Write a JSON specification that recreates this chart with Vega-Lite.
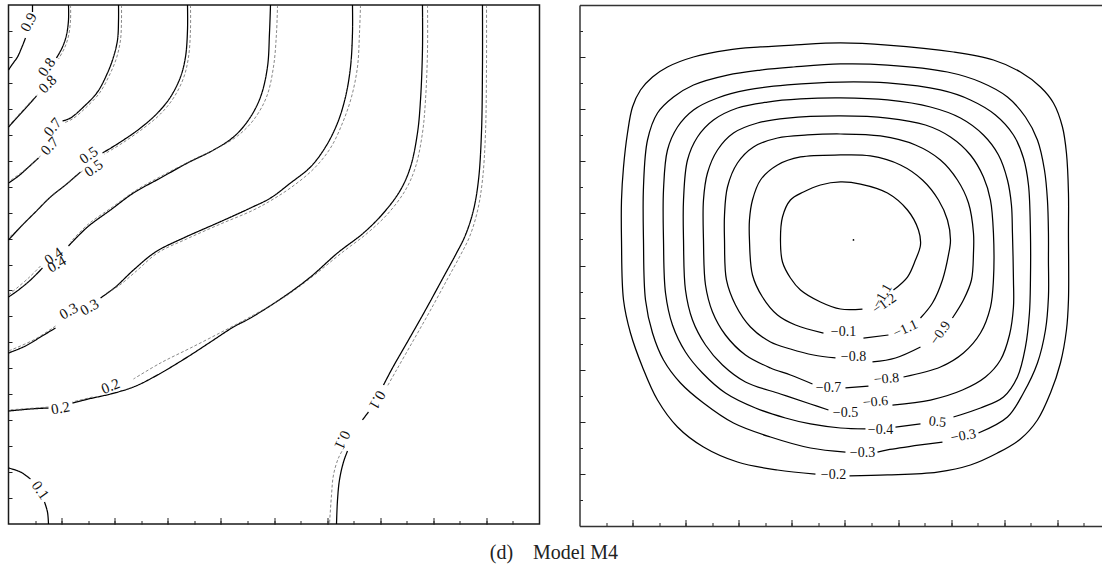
{
  "$schema": "https://vega.github.io/schema/vega-lite/v6.json",
  "background": "white",
  "padding": {"left": 4.5, "top": 1, "right": 0, "bottom": 0},
  "config": {
    "axis": {"grid": false, "labels": false, "title": null, "minExtent": 0, "tickColor": "#222", "tickWidth": 1, "domainColor": "#333", "domainWidth": 1.5},
    "text": {"font": "Liberation Serif", "fontSize": 14, "color": "#111"}
  },
  "title": {"text": "(d)\u00a0\u00a0\u00a0\u00a0Model M4", "orient": "bottom", "anchor": "middle", "font": "Liberation Serif", "fontSize": 20, "fontWeight": "normal", "color": "#222", "baseline": "alphabetic", "offset": 32},
  "spacing": 38,
  "datasets": {
    "leftLines": [
      {"k":"L9a","s":"solid","x":0.0452,"y":1},{"k":"L9a","s":"solid","x":0.0452,"y":0.9865},
      {"k":"L9b","s":"solid","x":0.0320,"y":0.9364},{"k":"L9b","s":"solid","x":0.0245,"y":0.9171},{"k":"L9b","s":"solid","x":0.0169,"y":0.8998},{"k":"L9b","s":"solid","x":0.0075,"y":0.8863},{"k":"L9b","s":"solid","x":0,"y":0.8748},
      {"k":"L8a","s":"solid","x":0.1130,"y":1},{"k":"L8a","s":"solid","x":0.1130,"y":0.9711},{"k":"L8a","s":"solid","x":0.1092,"y":0.9422},{"k":"L8a","s":"solid","x":0.1017,"y":0.9191},{"k":"L8a","s":"solid","x":0.0904,"y":0.8979},
      {"k":"L8b","s":"solid","x":0.0527,"y":0.8247},{"k":"L8b","s":"solid","x":0.0377,"y":0.8073},{"k":"L8b","s":"solid","x":0.0188,"y":0.7861},{"k":"L8b","s":"solid","x":0,"y":0.7649},
      {"k":"D8a","s":"dashed","x":0.1168,"y":1},{"k":"D8a","s":"dashed","x":0.1168,"y":0.9711},{"k":"D8a","s":"dashed","x":0.1130,"y":0.9403},{"k":"D8a","s":"dashed","x":0.1055,"y":0.9171},{"k":"D8a","s":"dashed","x":0.0942,"y":0.8960},
      {"k":"D8b","s":"dashed","x":0.0546,"y":0.8266},{"k":"D8b","s":"dashed","x":0.0377,"y":0.8093},{"k":"D8b","s":"dashed","x":0.0188,"y":0.7881},{"k":"D8b","s":"dashed","x":0,"y":0.7669},
      {"k":"L7a","s":"solid","x":0.2072,"y":1},{"k":"L7a","s":"solid","x":0.2072,"y":0.9711},{"k":"L7a","s":"solid","x":0.2053,"y":0.9326},{"k":"L7a","s":"solid","x":0.1977,"y":0.8998},{"k":"L7a","s":"solid","x":0.1864,"y":0.8690},{"k":"L7a","s":"solid","x":0.1676,"y":0.8324},{"k":"L7a","s":"solid","x":0.1412,"y":0.8035},{"k":"L7a","s":"solid","x":0.1168,"y":0.7823},{"k":"L7a","s":"solid","x":0.1017,"y":0.7765},
      {"k":"L7b","s":"solid","x":0.0565,"y":0.7052},{"k":"L7b","s":"solid","x":0.0358,"y":0.6859},{"k":"L7b","s":"solid","x":0.0188,"y":0.6705},{"k":"L7b","s":"solid","x":0,"y":0.6570},
      {"k":"D7a","s":"dashed","x":0.2128,"y":1},{"k":"D7a","s":"dashed","x":0.2128,"y":0.9711},{"k":"D7a","s":"dashed","x":0.2109,"y":0.9326},{"k":"D7a","s":"dashed","x":0.2034,"y":0.8979},{"k":"D7a","s":"dashed","x":0.1902,"y":0.8651},{"k":"D7a","s":"dashed","x":0.1714,"y":0.8304},{"k":"D7a","s":"dashed","x":0.1450,"y":0.8015},{"k":"D7a","s":"dashed","x":0.1205,"y":0.7804},{"k":"D7a","s":"dashed","x":0.1036,"y":0.7726},
      {"k":"D7b","s":"dashed","x":0.0603,"y":0.7091},{"k":"D7b","s":"dashed","x":0.0377,"y":0.6879},{"k":"D7b","s":"dashed","x":0,"y":0.6590},
      {"k":"L5a","s":"solid","x":0.3371,"y":1},{"k":"L5a","s":"solid","x":0.3371,"y":0.9518},{"k":"L5a","s":"solid","x":0.3333,"y":0.8998},{"k":"L5a","s":"solid","x":0.3239,"y":0.8613},{"k":"L5a","s":"solid","x":0.3051,"y":0.8227},{"k":"L5a","s":"solid","x":0.2806,"y":0.7919},{"k":"L5a","s":"solid","x":0.2486,"y":0.7630},{"k":"L5a","s":"solid","x":0.2109,"y":0.7360},{"k":"L5a","s":"solid","x":0.1770,"y":0.7148},
      {"k":"L5b","s":"solid","x":0.1356,"y":0.6782},{"k":"L5b","s":"solid","x":0.1073,"y":0.6532},{"k":"L5b","s":"solid","x":0.0791,"y":0.6301},{"k":"L5b","s":"solid","x":0.0508,"y":0.6012},{"k":"L5b","s":"solid","x":0.0226,"y":0.5723},{"k":"L5b","s":"solid","x":0,"y":0.5472},
      {"k":"D5a","s":"dashed","x":0.3427,"y":1},{"k":"D5a","s":"dashed","x":0.3427,"y":0.9518},{"k":"D5a","s":"dashed","x":0.3390,"y":0.8998},{"k":"D5a","s":"dashed","x":0.3296,"y":0.8593},{"k":"D5a","s":"dashed","x":0.3107,"y":0.8208},{"k":"D5a","s":"dashed","x":0.2862,"y":0.7900},{"k":"D5a","s":"dashed","x":0.2523,"y":0.7611},{"k":"D5a","s":"dashed","x":0.2147,"y":0.7341},{"k":"D5a","s":"dashed","x":0.1808,"y":0.7129},
      {"k":"D5b","s":"dashed","x":0.1394,"y":0.6802},{"k":"D5b","s":"dashed","x":0.1092,"y":0.6551},{"k":"D5b","s":"dashed","x":0.0810,"y":0.6320},{"k":"D5b","s":"dashed","x":0.0527,"y":0.6031},{"k":"D5b","s":"dashed","x":0.0245,"y":0.5742},{"k":"D5b","s":"dashed","x":0,"y":0.5511},
      {"k":"L4a","s":"solid","x":0.4934,"y":1},{"k":"L4a","s":"solid","x":0.4915,"y":0.9461},{"k":"L4a","s":"solid","x":0.4877,"y":0.8806},{"k":"L4a","s":"solid","x":0.4746,"y":0.8227},{"k":"L4a","s":"solid","x":0.4520,"y":0.7784},{"k":"L4a","s":"solid","x":0.4237,"y":0.7457},{"k":"L4a","s":"solid","x":0.3861,"y":0.7206},{"k":"L4a","s":"solid","x":0.3371,"y":0.6956},{"k":"L4a","s":"solid","x":0.2862,"y":0.6667},{"k":"L4a","s":"solid","x":0.2354,"y":0.6378},{"k":"L4a","s":"solid","x":0.1921,"y":0.6050},{"k":"L4a","s":"solid","x":0.1488,"y":0.5723},{"k":"L4a","s":"solid","x":0.1130,"y":0.5357},
      {"k":"L4b","s":"solid","x":0.0640,"y":0.4933},{"k":"L4b","s":"solid","x":0.0414,"y":0.4701},{"k":"L4b","s":"solid","x":0.0188,"y":0.4509},{"k":"L4b","s":"solid","x":0,"y":0.4374},
      {"k":"D4a","s":"dashed","x":0.5066,"y":1},{"k":"D4a","s":"dashed","x":0.5047,"y":0.9461},{"k":"D4a","s":"dashed","x":0.4990,"y":0.8806},{"k":"D4a","s":"dashed","x":0.4859,"y":0.8227},{"k":"D4a","s":"dashed","x":0.4614,"y":0.7784},{"k":"D4a","s":"dashed","x":0.4312,"y":0.7476},{"k":"D4a","s":"dashed","x":0.3936,"y":0.7245},{"k":"D4a","s":"dashed","x":0.3427,"y":0.6994},{"k":"D4a","s":"dashed","x":0.2919,"y":0.6725},{"k":"D4a","s":"dashed","x":0.2410,"y":0.6436},{"k":"D4a","s":"dashed","x":0.1959,"y":0.6108},{"k":"D4a","s":"dashed","x":0.1507,"y":0.5780},{"k":"D4a","s":"dashed","x":0.1168,"y":0.5434},
      {"k":"D4b","s":"dashed","x":0.0603,"y":0.4971},{"k":"D4b","s":"dashed","x":0.0377,"y":0.4740},{"k":"D4b","s":"dashed","x":0,"y":0.4412},
      {"k":"L3a","s":"solid","x":0.6478,"y":1},{"k":"L3a","s":"solid","x":0.6478,"y":0.9461},{"k":"L3a","s":"solid","x":0.6441,"y":0.8806},{"k":"L3a","s":"solid","x":0.6346,"y":0.8227},{"k":"L3a","s":"solid","x":0.6196,"y":0.7726},{"k":"L3a","s":"solid","x":0.5970,"y":0.7264},{"k":"L3a","s":"solid","x":0.5687,"y":0.6879},{"k":"L3a","s":"solid","x":0.5311,"y":0.6570},{"k":"L3a","s":"solid","x":0.4934,"y":0.6281},{"k":"L3a","s":"solid","x":0.4557,"y":0.6089},{"k":"L3a","s":"solid","x":0.3936,"y":0.5800},{"k":"L3a","s":"solid","x":0.3296,"y":0.5511},{"k":"L3a","s":"solid","x":0.2768,"y":0.5241},{"k":"L3a","s":"solid","x":0.2354,"y":0.4894},{"k":"L3a","s":"solid","x":0.2015,"y":0.4567},{"k":"L3a","s":"solid","x":0.1733,"y":0.4355},
      {"k":"L3b","s":"solid","x":0.0885,"y":0.3777},{"k":"L3b","s":"solid","x":0.0603,"y":0.3603},{"k":"L3b","s":"solid","x":0.0320,"y":0.3430},{"k":"L3b","s":"solid","x":0,"y":0.3295},
      {"k":"D3a","s":"dashed","x":0.6629,"y":1},{"k":"D3a","s":"dashed","x":0.6610,"y":0.9461},{"k":"D3a","s":"dashed","x":0.6572,"y":0.8806},{"k":"D3a","s":"dashed","x":0.6459,"y":0.8227},{"k":"D3a","s":"dashed","x":0.6290,"y":0.7726},{"k":"D3a","s":"dashed","x":0.6064,"y":0.7245},{"k":"D3a","s":"dashed","x":0.5763,"y":0.6859},{"k":"D3a","s":"dashed","x":0.5386,"y":0.6532},{"k":"D3a","s":"dashed","x":0.4990,"y":0.6262},{"k":"D3a","s":"dashed","x":0.4614,"y":0.6050},{"k":"D3a","s":"dashed","x":0.3992,"y":0.5780},{"k":"D3a","s":"dashed","x":0.3352,"y":0.5491},{"k":"D3a","s":"dashed","x":0.2806,"y":0.5222},{"k":"D3a","s":"dashed","x":0.2410,"y":0.4875},{"k":"D3a","s":"dashed","x":0.2072,"y":0.4586},{"k":"D3a","s":"dashed","x":0.1846,"y":0.4451},
      {"k":"D3b","s":"dashed","x":0.0885,"y":0.3815},{"k":"D3b","s":"dashed","x":0.0508,"y":0.3565},{"k":"D3b","s":"dashed","x":0,"y":0.3333},
      {"k":"L2a","s":"solid","x":0.7796,"y":1},{"k":"L2a","s":"solid","x":0.7796,"y":0.9133},{"k":"L2a","s":"solid","x":0.7759,"y":0.8170},{"k":"L2a","s":"solid","x":0.7702,"y":0.7534},{"k":"L2a","s":"solid","x":0.7570,"y":0.6879},{"k":"L2a","s":"solid","x":0.7382,"y":0.6435},{"k":"L2a","s":"solid","x":0.7062,"y":0.5992},{"k":"L2a","s":"solid","x":0.6685,"y":0.5607},{"k":"L2a","s":"solid","x":0.6196,"y":0.5222},{"k":"L2a","s":"solid","x":0.5687,"y":0.4759},{"k":"L2a","s":"solid","x":0.5179,"y":0.4374},{"k":"L2a","s":"solid","x":0.4557,"y":0.3969},{"k":"L2a","s":"solid","x":0.4237,"y":0.3796},{"k":"L2a","s":"solid","x":0.3804,"y":0.3507},{"k":"L2a","s":"solid","x":0.3371,"y":0.3218},{"k":"L2a","s":"solid","x":0.2806,"y":0.2871},{"k":"L2a","s":"solid","x":0.2354,"y":0.2640},{"k":"L2a","s":"solid","x":0.1921,"y":0.2505},{"k":"L2a","s":"solid","x":0.1507,"y":0.2409},{"k":"L2a","s":"solid","x":0.1205,"y":0.2331},
      {"k":"L2b","s":"solid","x":0.0753,"y":0.2235},{"k":"L2b","s":"solid","x":0.0414,"y":0.2216},{"k":"L2b","s":"solid","x":0,"y":0.2177},
      {"k":"D2a","s":"dashed","x":0.7891,"y":1},{"k":"D2a","s":"dashed","x":0.7891,"y":0.9133},{"k":"D2a","s":"dashed","x":0.7853,"y":0.8170},{"k":"D2a","s":"dashed","x":0.7796,"y":0.7534},{"k":"D2a","s":"dashed","x":0.7665,"y":0.6879},{"k":"D2a","s":"dashed","x":0.7476,"y":0.6435},{"k":"D2a","s":"dashed","x":0.7156,"y":0.5992},{"k":"D2a","s":"dashed","x":0.6761,"y":0.5607},{"k":"D2a","s":"dashed","x":0.6271,"y":0.5222},{"k":"D2a","s":"dashed","x":0.5763,"y":0.4798},{"k":"D2a","s":"dashed","x":0.5254,"y":0.4412},{"k":"D2a","s":"dashed","x":0.4651,"y":0.4046},{"k":"D2a","s":"dashed","x":0.4087,"y":0.3738},{"k":"D2a","s":"dashed","x":0.3427,"y":0.3391},{"k":"D2a","s":"dashed","x":0.2862,"y":0.3102},{"k":"D2a","s":"dashed","x":0.2354,"y":0.2794},
      {"k":"D2b","s":"dashed","x":0.1582,"y":0.2447},{"k":"D2b","s":"dashed","x":0.1205,"y":0.2351},
      {"k":"D2c","s":"dashed","x":0.0753,"y":0.2254},{"k":"D2c","s":"dashed","x":0,"y":0.2197},
      {"k":"L1a","s":"solid","x":0.8926,"y":1},{"k":"L1a","s":"solid","x":0.8926,"y":0.8806},{"k":"L1a","s":"solid","x":0.8907,"y":0.7534},{"k":"L1a","s":"solid","x":0.8851,"y":0.6628},{"k":"L1a","s":"solid","x":0.8757,"y":0.6050},{"k":"L1a","s":"solid","x":0.8606,"y":0.5568},{"k":"L1a","s":"solid","x":0.8418,"y":0.5183},{"k":"L1a","s":"solid","x":0.8192,"y":0.4759},{"k":"L1a","s":"solid","x":0.7853,"y":0.4123},{"k":"L1a","s":"solid","x":0.7533,"y":0.3545},{"k":"L1a","s":"solid","x":0.7231,"y":0.3006},{"k":"L1a","s":"solid","x":0.7062,"y":0.2678},
      {"k":"L1b","s":"solid","x":0.6779,"y":0.2158},{"k":"L1b","s":"solid","x":0.6666,"y":0.2004},
      {"k":"L1c","s":"solid","x":0.6384,"y":0.1407},{"k":"L1c","s":"solid","x":0.6309,"y":0.1195},{"k":"L1c","s":"solid","x":0.6233,"y":0.0848},{"k":"L1c","s":"solid","x":0.6196,"y":0.0462},{"k":"L1c","s":"solid","x":0.6177,"y":0},
      {"k":"D1a","s":"dashed","x":0.9002,"y":1},{"k":"D1a","s":"dashed","x":0.9002,"y":0.8806},{"k":"D1a","s":"dashed","x":0.8983,"y":0.7534},{"k":"D1a","s":"dashed","x":0.8926,"y":0.6628},{"k":"D1a","s":"dashed","x":0.8832,"y":0.6031},{"k":"D1a","s":"dashed","x":0.8681,"y":0.5530},{"k":"D1a","s":"dashed","x":0.8493,"y":0.5145},{"k":"D1a","s":"dashed","x":0.8267,"y":0.4721},{"k":"D1a","s":"dashed","x":0.7928,"y":0.4085},{"k":"D1a","s":"dashed","x":0.7608,"y":0.3507},{"k":"D1a","s":"dashed","x":0.7307,"y":0.2967},{"k":"D1a","s":"dashed","x":0.7137,"y":0.2659},
      {"k":"D1b","s":"dashed","x":0.6327,"y":0.1484},{"k":"D1b","s":"dashed","x":0.6214,"y":0.1272},{"k":"D1b","s":"dashed","x":0.6120,"y":0.0944},{"k":"D1b","s":"dashed","x":0.6083,"y":0.0559},{"k":"D1b","s":"dashed","x":0.6045,"y":0},
      {"k":"L0a","s":"solid","x":0,"y":0.1079},{"k":"L0a","s":"solid","x":0.0226,"y":0.1002},{"k":"L0a","s":"solid","x":0.0414,"y":0.0867},
      {"k":"L0b","s":"solid","x":0.0678,"y":0.0424},{"k":"L0b","s":"solid","x":0.0734,"y":0.0231},{"k":"L0b","s":"solid","x":0.0753,"y":0}
    ],
    "leftLabels": [
      {"t":"0.9","x":0.0377,"y":0.9672,"a":-62},
      {"t":"0.8","x":0.0716,"y":0.8805,"a":-55},
      {"t":"0.8","x":0.0734,"y":0.8478,"a":-45},
      {"t":"0.7","x":0.0829,"y":0.7649,"a":-50},
      {"t":"0.7","x":0.0772,"y":0.7283,"a":-48},
      {"t":"0.5","x":0.1507,"y":0.7110,"a":-35},
      {"t":"0.5","x":0.1601,"y":0.6859,"a":-35},
      {"t":"0.4","x":0.0847,"y":0.5164,"a":-35},
      {"t":"0.4","x":0.0904,"y":0.5010,"a":-30},
      {"t":"0.3","x":0.1525,"y":0.4181,"a":-30},
      {"t":"0.3","x":0.1130,"y":0.4104,"a":-30},
      {"t":"0.2","x":0.1921,"y":0.2659,"a":-22},
      {"t":"0.2","x":0.0979,"y":0.2235,"a":-10},
      {"t":"0.1","x":0.6949,"y":0.2389,"a":120},
      {"t":"0.1","x":0.6290,"y":0.1618,"a":115},
      {"t":"0.1","x":0.0603,"y":0.0655,"a":55}
    ],
    "rightLines": [
      {"k":"C1","x":0.5085,"y":0.0960},{"k":"C1","x":0.5800,"y":0.0979},{"k":"C1","x":0.6742,"y":0.1036},{"k":"C1","x":0.7363,"y":0.1171},{"k":"C1","x":0.7872,"y":0.1401},{"k":"C1","x":0.8305,"y":0.1670},{"k":"C1","x":0.8625,"y":0.2035},{"k":"C1","x":0.8870,"y":0.2553},{"k":"C1","x":0.9058,"y":0.3129},{"k":"C1","x":0.9171,"y":0.3762},{"k":"C1","x":0.9209,"y":0.4338},{"k":"C1","x":0.9209,"y":0.5624},{"k":"C1","x":0.9209,"y":0.6392},{"k":"C1","x":0.9171,"y":0.7159},{"k":"C1","x":0.9096,"y":0.7658},{"k":"C1","x":0.8926,"y":0.8119},{"k":"C1","x":0.8682,"y":0.8426},{"k":"C1","x":0.8305,"y":0.8714},{"k":"C1","x":0.7796,"y":0.8944},{"k":"C1","x":0.7043,"y":0.9098},{"k":"C1","x":0.5800,"y":0.9232},{"k":"C1","x":0.4915,"y":0.9271},{"k":"C1","x":0.4030,"y":0.9232},{"k":"C1","x":0.3409,"y":0.9194},{"k":"C1","x":0.2787,"y":0.9136},{"k":"C1","x":0.2147,"y":0.9002},{"k":"C1","x":0.1657,"y":0.8810},{"k":"C1","x":0.1375,"y":0.8618},{"k":"C1","x":0.1149,"y":0.8369},{"k":"C1","x":0.0998,"y":0.8042},{"k":"C1","x":0.0904,"y":0.7543},{"k":"C1","x":0.0829,"y":0.6891},{"k":"C1","x":0.0791,"y":0.6257},{"k":"C1","x":0.0791,"y":0.5490},{"k":"C1","x":0.0829,"y":0.4338},{"k":"C1","x":0.0960,"y":0.3704},{"k":"C1","x":0.1186,"y":0.3052},{"k":"C1","x":0.1469,"y":0.2418},{"k":"C1","x":0.1846,"y":0.1900},{"k":"C1","x":0.2335,"y":0.1516},{"k":"C1","x":0.2975,"y":0.1228},{"k":"C1","x":0.3729,"y":0.1075},{"k":"C1","x":0.4444,"y":0.0998},
      {"k":"C2a","x":0.5612,"y":0.1420},{"k":"C2a","x":0.5800,"y":0.1459},{"k":"C2a","x":0.6422,"y":0.1555},{"k":"C2a","x":0.6836,"y":0.1612},
      {"k":"C2b","x":0.7514,"y":0.1785},{"k":"C2b","x":0.8060,"y":0.2092},{"k":"C2b","x":0.8361,"y":0.2553},{"k":"C2b","x":0.8625,"y":0.3129},{"k":"C2b","x":0.8776,"y":0.3762},{"k":"C2b","x":0.8832,"y":0.4395},{"k":"C2b","x":0.8832,"y":0.5106},{"k":"C2b","x":0.8832,"y":0.5624},{"k":"C2b","x":0.8813,"y":0.6257},{"k":"C2b","x":0.8757,"y":0.6833},{"k":"C2b","x":0.8625,"y":0.7409},{"k":"C2b","x":0.8399,"y":0.7850},{"k":"C2b","x":0.8060,"y":0.8234},{"k":"C2b","x":0.7552,"y":0.8522},{"k":"C2b","x":0.6930,"y":0.8714},{"k":"C2b","x":0.5800,"y":0.8848},{"k":"C2b","x":0.4915,"y":0.8868},{"k":"C2b","x":0.4030,"y":0.8810},{"k":"C2b","x":0.3409,"y":0.8752},{"k":"C2b","x":0.2787,"y":0.8656},{"k":"C2b","x":0.2147,"y":0.8465},{"k":"C2b","x":0.1770,"y":0.8234},{"k":"C2b","x":0.1469,"y":0.7927},{"k":"C2b","x":0.1281,"y":0.7409},{"k":"C2b","x":0.1205,"y":0.6507},{"k":"C2b","x":0.1205,"y":0.5490},{"k":"C2b","x":0.1243,"y":0.4338},{"k":"C2b","x":0.1375,"y":0.3704},{"k":"C2b","x":0.1582,"y":0.3186},{"k":"C2b","x":0.1902,"y":0.2745},{"k":"C2b","x":0.2335,"y":0.2361},{"k":"C2b","x":0.2900,"y":0.1977},{"k":"C2b","x":0.3597,"y":0.1708},{"k":"C2b","x":0.4350,"y":0.1497},{"k":"C2b","x":0.5009,"y":0.1420},
      {"k":"C3a","x":0.5951,"y":0.1900},{"k":"C3a","x":0.6422,"y":0.1958},
      {"k":"C3b","x":0.7043,"y":0.2092},{"k":"C3b","x":0.7552,"y":0.2265},{"k":"C3b","x":0.7985,"y":0.2476},{"k":"C3b","x":0.8248,"y":0.2860},{"k":"C3b","x":0.8399,"y":0.3436},{"k":"C3b","x":0.8474,"y":0.4088},{"k":"C3b","x":0.8493,"y":0.4722},{"k":"C3b","x":0.8493,"y":0.5624},{"k":"C3b","x":0.8456,"y":0.6545},{"k":"C3b","x":0.8361,"y":0.7063},{"k":"C3b","x":0.8173,"y":0.7505},{"k":"C3b","x":0.7834,"y":0.7889},{"k":"C3b","x":0.7363,"y":0.8177},{"k":"C3b","x":0.6798,"y":0.8369},{"k":"C3b","x":0.5800,"y":0.8503},{"k":"C3b","x":0.4915,"y":0.8522},{"k":"C3b","x":0.3917,"y":0.8465},{"k":"C3b","x":0.3164,"y":0.8369},{"k":"C3b","x":0.2599,"y":0.8215},{"k":"C3b","x":0.2147,"y":0.7985},{"k":"C3b","x":0.1846,"y":0.7658},{"k":"C3b","x":0.1657,"y":0.7217},{"k":"C3b","x":0.1582,"y":0.6449},{"k":"C3b","x":0.1582,"y":0.5490},{"k":"C3b","x":0.1620,"y":0.4472},{"k":"C3b","x":0.1751,"y":0.3858},{"k":"C3b","x":0.1996,"y":0.3340},{"k":"C3b","x":0.2316,"y":0.2937},{"k":"C3b","x":0.2749,"y":0.2553},{"k":"C3b","x":0.3314,"y":0.2265},{"k":"C3b","x":0.3879,"y":0.2073},{"k":"C3b","x":0.4350,"y":0.1958},{"k":"C3b","x":0.4915,"y":0.1881},{"k":"C3b","x":0.5386,"y":0.1862},
      {"k":"C4","x":0.5894,"y":0.2322},{"k":"C4","x":0.6610,"y":0.2418},{"k":"C4","x":0.7213,"y":0.2610},{"k":"C4","x":0.7646,"y":0.2860},{"k":"C4","x":0.7928,"y":0.3186},{"k":"C4","x":0.8098,"y":0.3666},{"k":"C4","x":0.8173,"y":0.4203},{"k":"C4","x":0.8173,"y":0.4722},{"k":"C4","x":0.8154,"y":0.5624},{"k":"C4","x":0.8135,"y":0.6161},{"k":"C4","x":0.8060,"y":0.6641},{"k":"C4","x":0.7891,"y":0.7121},{"k":"C4","x":0.7608,"y":0.7505},{"k":"C4","x":0.7175,"y":0.7831},{"k":"C4","x":0.6610,"y":0.8042},{"k":"C4","x":0.5800,"y":0.8177},{"k":"C4","x":0.4915,"y":0.8215},{"k":"C4","x":0.4162,"y":0.8196},{"k":"C4","x":0.3540,"y":0.8138},{"k":"C4","x":0.2975,"y":0.8023},{"k":"C4","x":0.2523,"y":0.7793},{"k":"C4","x":0.2222,"y":0.7467},{"k":"C4","x":0.2034,"y":0.7025},{"k":"C4","x":0.1959,"y":0.6257},{"k":"C4","x":0.1959,"y":0.5490},{"k":"C4","x":0.1996,"y":0.4530},{"k":"C4","x":0.2128,"y":0.3954},{"k":"C4","x":0.2373,"y":0.3474},{"k":"C4","x":0.2693,"y":0.3090},{"k":"C4","x":0.3126,"y":0.2764},{"k":"C4","x":0.3785,"y":0.2534},{"k":"C4","x":0.4350,"y":0.2342},{"k":"C4","x":0.4689,"y":0.2227},
      {"k":"C5a","x":0.6102,"y":0.2860},{"k":"C5a","x":0.6798,"y":0.3052},{"k":"C5a","x":0.7231,"y":0.3321},{"k":"C5a","x":0.7552,"y":0.3704},{"k":"C5a","x":0.7740,"y":0.4203},{"k":"C5a","x":0.7796,"y":0.4722},{"k":"C5a","x":0.7796,"y":0.5624},{"k":"C5a","x":0.7740,"y":0.6257},{"k":"C5a","x":0.7608,"y":0.6699},{"k":"C5a","x":0.7363,"y":0.7121},{"k":"C5a","x":0.6987,"y":0.7467},{"k":"C5a","x":0.6516,"y":0.7697},{"k":"C5a","x":0.5800,"y":0.7831},{"k":"C5a","x":0.4915,"y":0.7870},{"k":"C5a","x":0.3917,"y":0.7831},{"k":"C5a","x":0.3352,"y":0.7735},{"k":"C5a","x":0.2900,"y":0.7543},{"k":"C5a","x":0.2599,"y":0.7217},{"k":"C5a","x":0.2410,"y":0.6775},{"k":"C5a","x":0.2335,"y":0.6257},{"k":"C5a","x":0.2335,"y":0.5490},{"k":"C5a","x":0.2373,"y":0.4626},{"k":"C5a","x":0.2505,"y":0.4108},{"k":"C5a","x":0.2749,"y":0.3666},{"k":"C5a","x":0.3126,"y":0.3282},{"k":"C5a","x":0.3597,"y":0.3033},{"k":"C5a","x":0.3973,"y":0.2898},{"k":"C5a","x":0.4388,"y":0.2726},
      {"k":"C5b","x":0.5009,"y":0.2649},{"k":"C5b","x":0.5442,"y":0.2687},
      {"k":"C6a","x":0.7024,"y":0.3992},{"k":"C6a","x":0.7231,"y":0.4338},{"k":"C6a","x":0.7382,"y":0.4722},{"k":"C6a","x":0.7420,"y":0.5240},{"k":"C6a","x":0.7420,"y":0.5624},{"k":"C6a","x":0.7326,"y":0.6200},{"k":"C6a","x":0.7118,"y":0.6641},{"k":"C6a","x":0.6798,"y":0.7025},{"k":"C6a","x":0.6327,"y":0.7313},{"k":"C6a","x":0.5668,"y":0.7486},{"k":"C6a","x":0.4915,"y":0.7524},{"k":"C6a","x":0.4294,"y":0.7505},{"k":"C6a","x":0.3729,"y":0.7447},{"k":"C6a","x":0.3277,"y":0.7275},{"k":"C6a","x":0.2975,"y":0.6967},{"k":"C6a","x":0.2787,"y":0.6507},{"k":"C6a","x":0.2731,"y":0.5969},{"k":"C6a","x":0.2731,"y":0.5490},{"k":"C6a","x":0.2768,"y":0.4722},{"k":"C6a","x":0.2938,"y":0.4242},{"k":"C6a","x":0.3220,"y":0.3820},{"k":"C6a","x":0.3597,"y":0.3532},{"k":"C6a","x":0.3973,"y":0.3397},{"k":"C6a","x":0.4407,"y":0.3282},{"k":"C6a","x":0.4821,"y":0.3225},
      {"k":"C6b","x":0.5518,"y":0.3148},{"k":"C6b","x":0.5951,"y":0.3225},{"k":"C6b","x":0.6422,"y":0.3436},
      {"k":"C7a","x":0.6422,"y":0.3992},{"k":"C7a","x":0.6648,"y":0.4280},{"k":"C7a","x":0.6836,"y":0.4722},{"k":"C7a","x":0.6949,"y":0.5202},{"k":"C7a","x":0.6987,"y":0.5490},{"k":"C7a","x":0.6930,"y":0.5873},{"k":"C7a","x":0.6761,"y":0.6257},{"k":"C7a","x":0.6459,"y":0.6641},{"k":"C7a","x":0.6045,"y":0.6929},{"k":"C7a","x":0.5480,"y":0.7102},{"k":"C7a","x":0.4915,"y":0.7121},{"k":"C7a","x":0.4162,"y":0.7083},{"k":"C7a","x":0.3729,"y":0.6929},{"k":"C7a","x":0.3409,"y":0.6641},{"k":"C7a","x":0.3258,"y":0.6257},{"k":"C7a","x":0.3201,"y":0.5873},{"k":"C7a","x":0.3201,"y":0.5490},{"k":"C7a","x":0.3258,"y":0.4818},{"k":"C7a","x":0.3446,"y":0.4395},{"k":"C7a","x":0.3729,"y":0.4050},{"k":"C7a","x":0.4068,"y":0.3858},{"k":"C7a","x":0.4595,"y":0.3704},
      {"k":"C7b","x":0.5348,"y":0.3608},{"k":"C7b","x":0.5819,"y":0.3666},
      {"k":"C8","x":0.5913,"y":0.4530},{"k":"C8","x":0.6177,"y":0.4779},{"k":"C8","x":0.6327,"y":0.5106},{"k":"C8","x":0.6422,"y":0.5394},{"k":"C8","x":0.6384,"y":0.5681},{"k":"C8","x":0.6177,"y":0.6065},{"k":"C8","x":0.5800,"y":0.6392},{"k":"C8","x":0.5292,"y":0.6564},{"k":"C8","x":0.4915,"y":0.6603},{"k":"C8","x":0.4538,"y":0.6545},{"k":"C8","x":0.4218,"y":0.6411},{"k":"C8","x":0.3973,"y":0.6257},{"k":"C8","x":0.3823,"y":0.5931},{"k":"C8","x":0.3785,"y":0.5490},{"k":"C8","x":0.3823,"y":0.5067},{"k":"C8","x":0.3973,"y":0.4760},{"k":"C8","x":0.4162,"y":0.4530},{"k":"C8","x":0.4538,"y":0.4300},{"k":"C8","x":0.4915,"y":0.4165},{"k":"C8","x":0.5329,"y":0.4165}
    ],
    "rightLabels": [
      {"t":"\u22120.2","x":0.4783,"y":0.0979,"a":0},
      {"t":"\u22120.3","x":0.5329,"y":0.1401,"a":0},
      {"t":"\u22120.4","x":0.5668,"y":0.1843,"a":0},
      {"t":"\u22120.5","x":0.5009,"y":0.2169,"a":0},
      {"t":"\u22120.6","x":0.5574,"y":0.2380,"a":-5},
      {"t":"\u22120.7","x":0.4689,"y":0.2649,"a":0},
      {"t":"\u22120.8","x":0.5782,"y":0.2821,"a":-5},
      {"t":"\u22120.8","x":0.5160,"y":0.3244,"a":0},
      {"t":"\u22120.1","x":0.4972,"y":0.3724,"a":0},
      {"t":"\u22121.1","x":0.6139,"y":0.3781,"a":-25},
      {"t":"\u22120.9","x":0.6798,"y":0.3704,"a":-55},
      {"t":"\u22121.1","x":0.5706,"y":0.4415,"a":-60},
      {"t":"\u22121.2","x":0.5744,"y":0.4261,"a":-35},
      {"t":"0.5","x":0.6742,"y":0.1996,"a":5},
      {"t":"\u22120.3","x":0.7231,"y":0.1727,"a":-10}
    ],
    "rightDot": [{"x":0.5160,"y":0.5490}]
  },
  "hconcat": [
    {
      "width": 531,
      "height": 519,
      "view": {"stroke": "#1a1a1a", "strokeWidth": 1.5},
      "resolve": {"axis": {"x": "independent", "y": "independent"}},
      "layer": [
        {
          "data": {"name": "leftLines"},
          "mark": {"type": "line", "interpolate": "catmull-rom", "strokeCap": "butt"},
          "encoding": {
            "x": {"field": "x", "type": "quantitative", "scale": {"domain": [0, 1], "nice": false, "zero": false},
                  "axis": {"orient": "bottom", "values": [0.05,0.1,0.15,0.2,0.25,0.3,0.35,0.4,0.45,0.5,0.55,0.6,0.65,0.7,0.75,0.8,0.85,0.9,0.95], "tickSize": -3.5, "domain": false, "labels": false, "title": null}},
            "y": {"field": "y", "type": "quantitative", "scale": {"domain": [0, 1], "nice": false, "zero": false},
                  "axis": {"orient": "left", "values": [0.05,0.1,0.15,0.2,0.25,0.3,0.35,0.4,0.45,0.5,0.55,0.6,0.65,0.7,0.75,0.8,0.85,0.9,0.95], "tickSize": -3.5, "domain": false, "labels": false, "title": null}},
            "detail": {"field": "k", "type": "nominal"},
            "order": {"value": null},
            "strokeDash": {"field": "s", "type": "nominal", "scale": {"domain": ["solid", "dashed"], "range": [[1, 0], [3, 2]]}, "legend": null},
            "strokeWidth": {"field": "s", "type": "nominal", "scale": {"domain": ["solid", "dashed"], "range": [1.25, 0.7]}, "legend": null},
            "color": {"field": "s", "type": "nominal", "scale": {"domain": ["solid", "dashed"], "range": ["#000000", "#555555"]}, "legend": null}
          }
        },
        {
          "data": {"name": "leftLabels"},
          "mark": {"type": "text", "align": "center", "baseline": "middle", "fontSize": 15},
          "encoding": {
            "x": {"field": "x", "type": "quantitative", "scale": {"domain": [0, 1], "nice": false, "zero": false},
                  "axis": {"orient": "bottom", "values": [0.1,0.2,0.3,0.4,0.5,0.6,0.7,0.8,0.9], "tickSize": -6.5, "domain": false, "labels": false, "title": null}},
            "y": {"field": "y", "type": "quantitative", "scale": {"domain": [0, 1], "nice": false, "zero": false}, "axis": null},
            "text": {"field": "t", "type": "nominal"},
            "angle": {"field": "a", "type": "quantitative", "scale": null}
          }
        }
      ]
    },
    {
      "width": 523,
      "height": 521,
      "view": {"stroke": null},
      "resolve": {"axis": {"x": "independent", "y": "independent"}},
      "layer": [
        {
          "data": {"name": "rightLines"},
          "mark": {"type": "line", "interpolate": "catmull-rom", "color": "#000000", "strokeWidth": 1.25},
          "encoding": {
            "x": {"field": "x", "type": "quantitative", "scale": {"domain": [0, 0.985], "nice": false, "zero": false},
                  "axis": {"orient": "bottom", "values": [0.05,0.1,0.15,0.2,0.25,0.3,0.35,0.4,0.45,0.5,0.55,0.6,0.65,0.7,0.75,0.8,0.85,0.9,0.95], "tickSize": -3.5, "domain": true, "labels": false, "title": null}},
            "y": {"field": "y", "type": "quantitative", "scale": {"domain": [0, 1], "nice": false, "zero": false},
                  "axis": {"orient": "left", "values": [0.05,0.1,0.15,0.2,0.25,0.3,0.35,0.4,0.45,0.5,0.55,0.6,0.65,0.7,0.75,0.8,0.85,0.9,0.95], "tickSize": -3, "domain": true, "labels": false, "title": null}},
            "detail": {"field": "k", "type": "nominal"},
            "order": {"value": null}
          }
        },
        {
          "data": {"name": "rightLabels"},
          "mark": {"type": "text", "align": "center", "baseline": "middle"},
          "encoding": {
            "x": {"field": "x", "type": "quantitative", "scale": {"domain": [0, 0.985], "nice": false, "zero": false},
                  "axis": {"orient": "bottom", "values": [0.1,0.2,0.3,0.4,0.5,0.6,0.7,0.8,0.9], "tickSize": -6.5, "domain": false, "labels": false, "title": null}},
            "y": {"field": "y", "type": "quantitative", "scale": {"domain": [0, 1], "nice": false, "zero": false},
                  "axis": {"orient": "left", "values": [0.1,0.2,0.3,0.4,0.5,0.6,0.7,0.8,0.9], "tickSize": -5.5, "domain": false, "labels": false, "title": null}},
            "text": {"field": "t", "type": "nominal"},
            "angle": {"field": "a", "type": "quantitative", "scale": null}
          }
        },
        {
          "data": {"name": "rightDot"},
          "mark": {"type": "circle", "size": 3, "color": "#000000", "opacity": 1},
          "encoding": {
            "x": {"field": "x", "type": "quantitative", "scale": {"domain": [0, 0.985], "nice": false, "zero": false},
                  "axis": {"orient": "top", "ticks": false, "domain": true, "labels": false, "title": null}},
            "y": {"field": "y", "type": "quantitative", "scale": {"domain": [0, 1], "nice": false, "zero": false}, "axis": null}
          }
        }
      ]
    }
  ]
}
